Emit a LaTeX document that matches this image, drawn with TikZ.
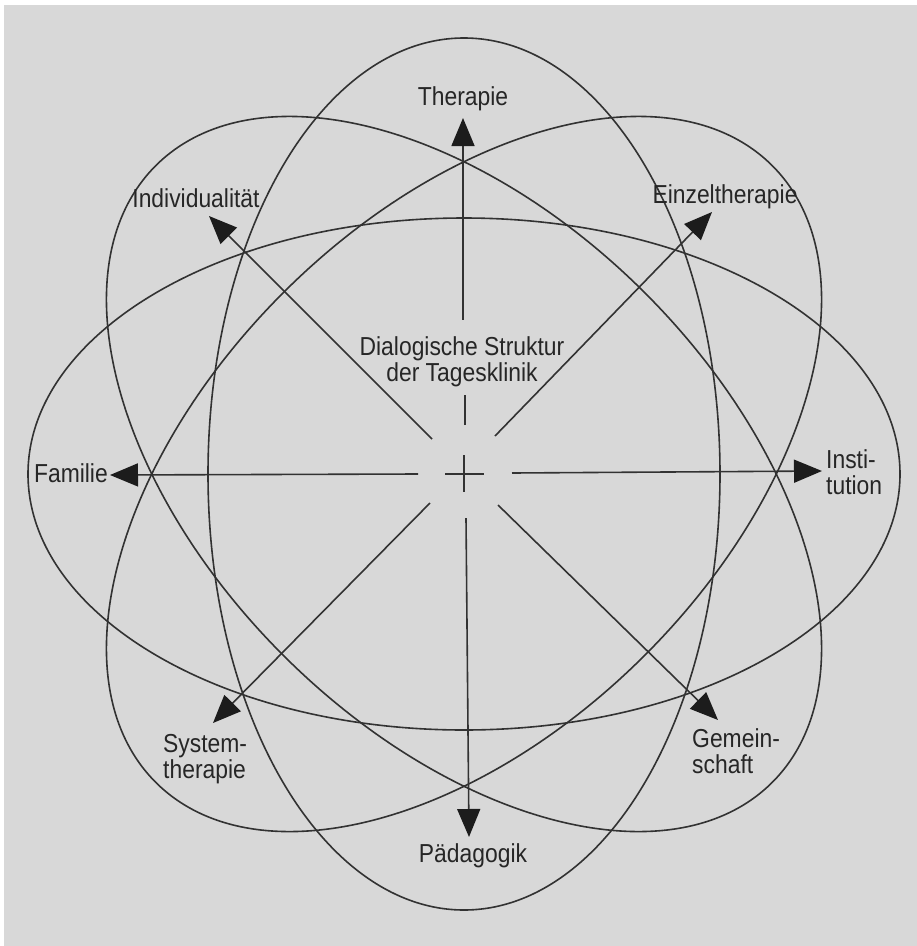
\documentclass[tikz,border=0pt]{standalone}
\usepackage{fontspec}
\setmainfont{Liberation Sans}[FakeStretch=0.88]
\usetikzlibrary{arrows.meta}
\definecolor{bg}{RGB}{216,216,216}
\definecolor{ink}{RGB}{50,50,50}
\definecolor{head}{RGB}{28,28,28}
\definecolor{txt}{RGB}{38,38,38}
\begin{document}
\begin{tikzpicture}[x=1pt,y=-1pt,
  orbit/.style={draw=ink, line width=1.6pt},
  plain/.style={draw=ink, line width=1.6pt},
  ray/.style={draw=ink, line width=1.6pt, -{Triangle[length=28pt,width=23pt,color=head]}},
  lbl/.style={inner sep=0pt, text=txt, font=\fontsize{26}{26.5}\selectfont},
  ]
\fill[white] (0,0) rectangle (917,946);
\fill[bg] (4,5) rectangle (917,946);
\useasboundingbox (0,0) rectangle (917,946);
\coordinate (C) at (464,474);
% orbits
\foreach \a in {0,45,90,135}
  \draw[orbit, rotate around={\a:(C)}] (C) ellipse [x radius=436, y radius=256];
% centre cross
\draw[plain] ([xshift=-19pt]C) -- ([xshift=20pt]C);
\draw[plain] ([yshift=19pt]C) -- ([yshift=-18pt]C);
% title
\node[lbl, fill=bg, inner xsep=4pt, inner ysep=0pt, anchor=base] (title) at (462,355)
  {\begin{tabular}[t]{@{}c@{}}Dialogische Struktur\\der Tagesklinik\end{tabular}};
% labels
\node[lbl, anchor=base] (ther) at (463,105) {Therapie};
\node[lbl, anchor=base] (indiv) at (196,207) {Individualität};
\node[lbl, anchor=base] (einz) at (725,203) {Einzeltherapie};
\node[lbl, anchor=base east] (fam) at (108,482) {Familie};
\node[lbl, anchor=base west] (inst) at (826,468) {\begin{tabular}[t]{@{}l@{}}Insti-\\tution\end{tabular}};
\node[lbl, anchor=base west] (sys) at (163,752) {\begin{tabular}[t]{@{}l@{}}System-\\therapie\end{tabular}};
\node[lbl, anchor=base west] (gem) at (692,747) {\begin{tabular}[t]{@{}l@{}}Gemein-\\schaft\end{tabular}};
\node[lbl, anchor=base] (paed) at (473,862) {Pädagogik};
% ray end points
\coordinate (sU) at (465,425); \coordinate (tU) at (463,118);
\coordinate (sD) at (466,518); \coordinate (tD) at (469,837);
\coordinate (sL) at (418,474); \coordinate (tL) at (110,475);
\coordinate (sR) at (512,473); \coordinate (tR) at (822,471);
\coordinate (sUL) at (432,439); \coordinate (tUL) at (209,216);
\coordinate (sUR) at (495,436); \coordinate (tUR) at (712,212);
\coordinate (sDL) at (430,503); \coordinate (tDL) at (213,723);
\coordinate (sDR) at (498,505); \coordinate (tDR) at (718,720);
% rays
\draw[plain, shorten >=5pt] (sU) -- (sU |- title.south);
\draw[ray, shorten <=16pt] (tU |- title.north) -- (tU);
\draw[ray] (sD) -- (tD);
\draw[ray] (sL) -- (tL);
\draw[ray] (sR) -- (tR);
\draw[ray] (sUL) -- (tUL);
\draw[ray] (sUR) -- (tUR);
\draw[ray] (sDL) -- (tDL);
\draw[ray] (sDR) -- (tDR);
\end{tikzpicture}
\end{document}
